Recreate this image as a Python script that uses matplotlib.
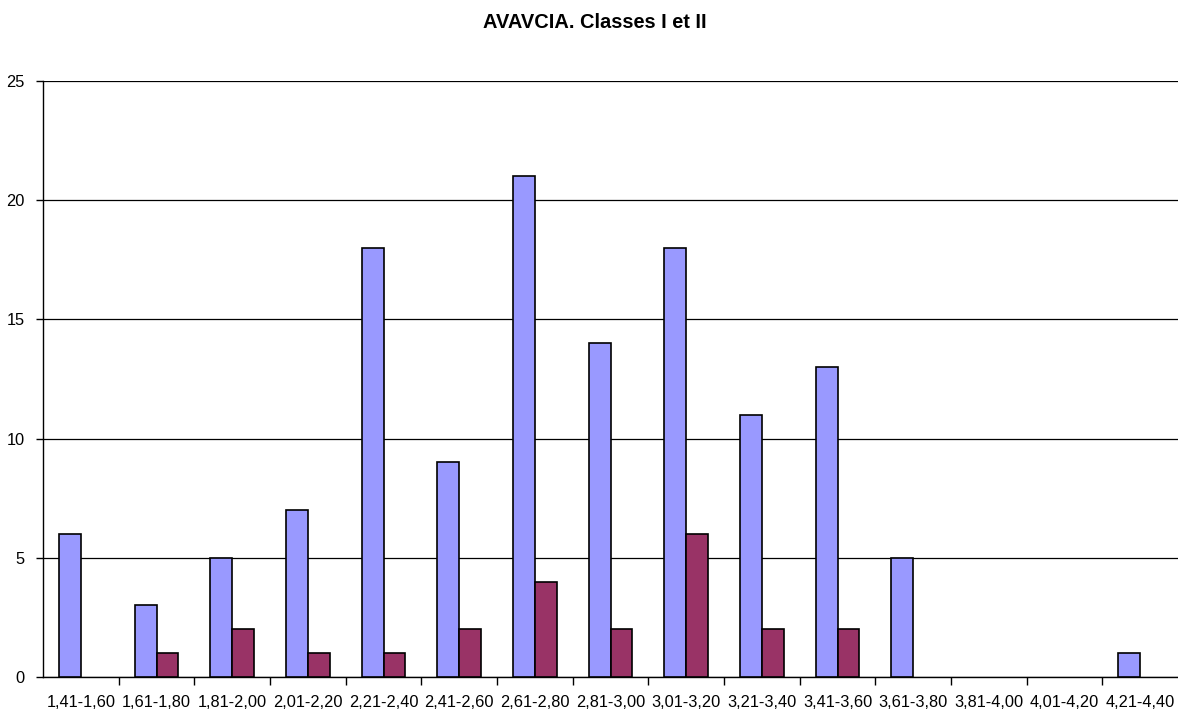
import matplotlib
matplotlib.use('Agg')
import matplotlib.pyplot as plt
import numpy as np

# 数据
classes = ['1,41-1,60', '1,61-1,80', '1,81-2,00', '2,01-2,20', '2,21-2,40',
           '2,41-2,60', '2,61-2,80', '2,81-3,00', '3,01-3,20', '3,21-3,40',
           '3,41-3,60', '3,61-3,80', '3,81-4,00', '4,01-4,20', '4,21-4,40']
classe_1 = [6, 3, 5, 7, 18, 9, 21, 14, 18, 11, 13, 5, 0, 0, 1]
classe_2 = [0, 1, 2, 1, 1, 2, 4, 2, 6, 2, 2, 0, 0, 0, 0]
title = 'AVAVCIA. Classes I et II'

plt.rcParams['font.family'] = ['Liberation Sans', 'DejaVu Sans']

fig = plt.figure(figsize=(11.78, 7.10), dpi=100)
ax = fig.add_axes([43 / 1178, 33 / 710, 1 - 43 / 1178, (677 - 81) / 710])

x = np.arange(len(classes))
w = 0.29
for xi, v in zip(x, classe_1):
    if v > 0:
        ax.bar(xi - w / 2, v, w, color='#9999FF', edgecolor='black', linewidth=1.2, zorder=3)
for xi, v in zip(x, classe_2):
    if v > 0:
        ax.bar(xi + w / 2, v, w, color='#993366', edgecolor='black', linewidth=1.2, zorder=3)

ax.set_xlim(-0.5, len(classes) - 0.5)
ax.set_ylim(0, 25)
ax.set_yticks(range(0, 26, 5))
ax.yaxis.grid(True, color='black', linewidth=0.9, zorder=0)
ax.tick_params(axis='y', direction='out', length=5, width=1, pad=8, labelsize=11.8)

ax.set_xticks(x)
ax.set_xticklabels(classes, fontsize=11.8)
ax.set_xticks(np.arange(0.5, len(classes) - 0.5, 1), minor=True)
ax.tick_params(axis='x', which='major', length=0, pad=13)
ax.tick_params(axis='x', which='minor', direction='out', length=6, width=1)

ax.spines['top'].set_visible(False)
ax.spines['right'].set_visible(False)
ax.spines['left'].set_linewidth(1)
ax.spines['bottom'].set_linewidth(1)

# 标题
fig.text(595 / 1178, 1 - 22 / 710, title, ha='center', va='center',
         fontsize=14.4, fontweight='bold')

fig.savefig('out.png', dpi=100)
